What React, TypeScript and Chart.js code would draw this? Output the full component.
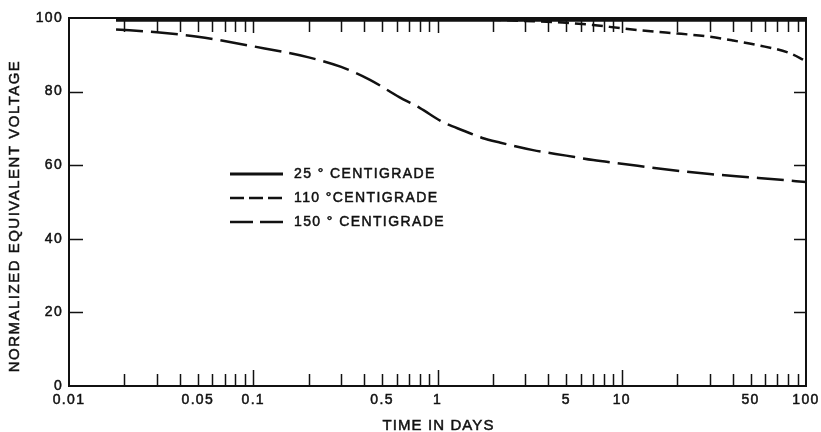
import React, { useEffect, useRef } from 'react';
import { Chart, registerables } from 'chart.js';

Chart.register(...registerables);

// ---- data ----
const days25 = [0.018, 0.1, 1, 10, 100];
const volts25 = [99.4, 99.4, 99.4, 99.4, 99.4];

const days110 = [0.018, 0.1, 0.5, 1, 2, 3, 5, 7, 10, 15, 20, 30, 40, 55, 80, 100];
const volts110 = [99.6, 99.6, 99.6, 99.6, 99.5, 99.2, 98.7, 98.1, 97.2, 96.3, 95.8, 94.9, 93.9, 92.6, 90.6, 88.3];

const days150 = [0.018, 0.03, 0.05, 0.1, 0.2, 0.3, 0.43, 0.62, 0.8, 1.07, 1.4, 1.75, 2.2, 3.3, 5, 7, 10, 20, 30, 50, 70, 100];
const volts150 = [96.9, 96.1, 94.9, 92.3, 89.3, 86.7, 83.2, 78.5, 75.6, 71.7, 69.3, 67.4, 66.1, 64.1, 62.6, 61.4, 60.4, 58.5, 57.6, 56.7, 56.1, 55.4];

const seriesLabels = ['25 \u00B0 CENTIGRADE', '110 \u00B0CENTIGRADE', '150 \u00B0 CENTIGRADE'];
const xTickLabels = [0.01, 0.05, 0.1, 0.5, 1, 5, 10, 50, 100];
const xMinorBases = [0.01, 0.1, 1, 10];
const xMajorInner = [0.1, 1, 10];
const yTickLabels = [0, 20, 40, 60, 80, 100];
const yInnerTicks = [20, 40, 60, 80];
const xTitle = 'TIME IN DAYS';
const yTitle = 'NORMALIZED EQUIVALENT VOLTAGE';

const FONT = '"Liberation Sans", Arial, Helvetica, sans-serif';
const INK = '#111111';
const TEXT_STROKE = 0.5;

const toPoints = (xs: number[], ys: number[]) => xs.map((x, i) => ({ x, y: ys[i] }));

const heavyText = (ctx: CanvasRenderingContext2D, s: string, x: number, y: number) => {
  ctx.fillText(s, x, y);
  ctx.lineWidth = TEXT_STROKE;
  ctx.strokeText(s, x, y);
};

const framePlugin = {
  id: 'framePlugin',
  beforeDraw(chart: any) {
    (chart.ctx as any).letterSpacing = '1.3px';
  },
  afterDraw(chart: any) {
    const ctx = chart.ctx as CanvasRenderingContext2D & { letterSpacing?: string };
    const { left, right, top, bottom } = chart.chartArea;
    const xs = chart.scales.x;
    const ys = chart.scales.y;
    ctx.save();
    ctx.strokeStyle = INK;
    ctx.fillStyle = INK;
    ctx.setLineDash([]);
    // frame
    ctx.lineWidth = 2;
    ctx.strokeRect(left, top, right - left, bottom - top);
    // x minor/major ticks (inside, bottom and top)
    ctx.lineWidth = 1.5;
    const xVals: number[] = [];
    xMinorBases.forEach((b) => {
      for (let m = 2; m <= 9; m++) xVals.push(b * m);
    });
    xMajorInner.forEach((v) => xVals.push(v));
    xVals.forEach((v) => {
      const px = Math.round(xs.getPixelForValue(v)) + 0.5;
      const major = xMajorInner.indexOf(v) >= 0;
      ctx.beginPath();
      ctx.moveTo(px, bottom);
      ctx.lineTo(px, bottom - (major ? 16 : 12));
      ctx.moveTo(px, top);
      ctx.lineTo(px, top + (major ? 15 : 14));
      ctx.stroke();
    });
    // y ticks inside, left and right
    yInnerTicks.forEach((v) => {
      const py = Math.round(ys.getPixelForValue(v)) + 0.5;
      ctx.beginPath();
      ctx.moveTo(left, py);
      ctx.lineTo(left + 14, py);
      ctx.moveTo(right, py);
      ctx.lineTo(right - 12, py);
      ctx.stroke();
    });
    // axis titles
    ctx.font = `15px ${FONT}`;
    ctx.textAlign = 'center';
    ctx.textBaseline = 'middle';
    ctx.letterSpacing = '1.1px';
    heavyText(ctx, xTitle, (left + right) / 2 + 1, 426);
    ctx.save();
    ctx.translate(15, 216);
    ctx.rotate(-Math.PI / 2);
    ctx.letterSpacing = '1.5px';
    heavyText(ctx, yTitle, 0, 0);
    ctx.restore();
    // legend
    const ds = chart.data.datasets;
    const rows = [174, 198, 222];
    ctx.font = `14px ${FONT}`;
    ctx.textAlign = 'left';
    ctx.letterSpacing = '1.4px';
    const legendDash = [[], [14, 5], [23, 7]];
    ds.forEach((d: any, i: number) => {
      const y = rows[i];
      ctx.save();
      ctx.lineWidth = d.borderWidth;
      ctx.strokeStyle = d.borderColor;
      ctx.setLineDash(legendDash[i]);
      ctx.beginPath();
      ctx.moveTo(230, y);
      ctx.lineTo(283, y);
      ctx.stroke();
      ctx.restore();
      heavyText(ctx, d.label, 294, y + 0.5);
    });
    ctx.restore();
  },
};

export default function App() {
  const canvasRef = useRef<HTMLCanvasElement | null>(null);

  useEffect(() => {
    document.body.style.margin = '0';
    const canvas = canvasRef.current;
    if (!canvas) return;
    const chart = new Chart(canvas, {
      type: 'line',
      data: {
        datasets: [
          {
            label: seriesLabels[0],
            data: toPoints(days25, volts25),
            borderColor: INK,
            borderWidth: 3,
            pointRadius: 0,
            tension: 0,
          },
          {
            label: seriesLabels[1],
            data: toPoints(days110, volts110),
            borderColor: INK,
            borderWidth: 2.5,
            borderDash: [11, 6],
            pointRadius: 0,
            cubicInterpolationMode: 'monotone',
          },
          {
            label: seriesLabels[2],
            data: toPoints(days150, volts150),
            borderColor: INK,
            borderWidth: 2.5,
            borderDash: [27, 8],
            pointRadius: 0,
            cubicInterpolationMode: 'monotone',
          },
        ],
      },
      options: {
        animation: false,
        responsive: false,
        devicePixelRatio: 1,
        layout: { padding: { top: 18, right: 15, left: 0, bottom: 0 } },
        plugins: {
          legend: { display: false },
          tooltip: { enabled: false },
        },
        scales: {
          x: {
            type: 'logarithmic',
            min: 0.01,
            max: 100,
            grid: { display: false, drawTicks: false },
            border: { display: false },
            afterBuildTicks: (scale: any) => {
              scale.ticks = xTickLabels.map((v) => ({ value: v }));
            },
            afterFit: (scale: any) => {
              scale.height = 46;
              scale.paddingLeft = 0;
              scale.paddingRight = 0;
            },
            ticks: {
              autoSkip: false,
              maxRotation: 0,
              minRotation: 0,
              padding: 6,
              color: INK,
              textStrokeColor: INK,
              textStrokeWidth: TEXT_STROKE,
              font: { family: FONT, size: 14 },
              callback: (v: any) => String(v),
            },
          },
          y: {
            type: 'linear',
            min: 0,
            max: 100,
            grid: { display: false, drawTicks: false },
            border: { display: false },
            afterBuildTicks: (scale: any) => {
              scale.ticks = yTickLabels.map((v) => ({ value: v }));
            },
            afterFit: (scale: any) => {
              scale.width = 69;
              scale.paddingTop = 0;
              scale.paddingBottom = 0;
            },
            ticks: {
              padding: 6,
              color: INK,
              textStrokeColor: INK,
              textStrokeWidth: TEXT_STROKE,
              font: { family: FONT, size: 14 },
              callback: (v: any) => String(v),
            },
          },
        },
      } as any,
      plugins: [framePlugin],
    });
    return () => chart.destroy();
  }, []);

  return (
    <div style={{ width: 821, height: 432, background: '#ffffff' }}>
      <canvas ref={canvasRef} width={821} height={432} style={{ display: 'block' }} />
    </div>
  );
}
